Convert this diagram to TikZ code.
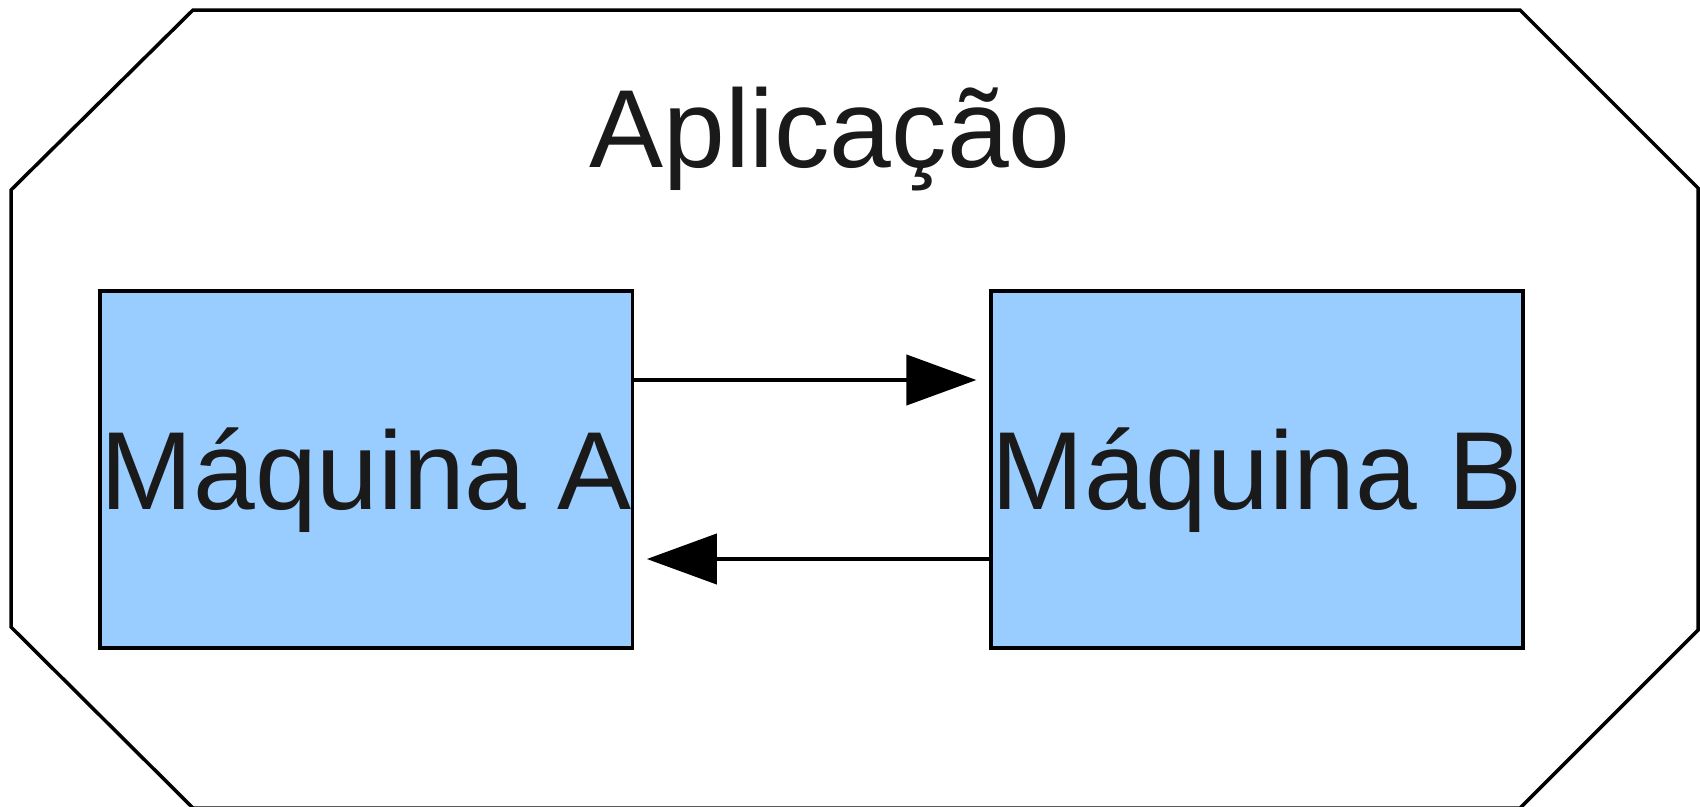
\documentclass[tikz,border=0pt]{standalone}
\usepackage{fontspec}
\setmainfont{Liberation Sans}
\usetikzlibrary{arrows.meta}
\definecolor{boxblue}{HTML}{99CCFF}
\definecolor{ink}{HTML}{1A1A1A}
\begin{document}
\begin{tikzpicture}[x=1pt,y=-1pt,
  bigfont/.style={font=\fontsize{111}{120}\selectfont, text=ink},
  machine/.style={draw=black, fill=boxblue, line width=3.7pt,
    minimum width=532.5pt, minimum height=357pt, inner sep=0pt,
    bigfont, text height=79.5pt, text depth=0pt},
  link/.style={line width=4.2pt, shorten >=12.5pt,
    -{Triangle[length=70pt,width=50pt]}},
  hull/.style={draw=black, line width=3.5pt, line join=miter}]
  \useasboundingbox (0,0) rectangle (1700,806);
  \clip (0,0) rectangle (1700,806);

  % application boundary (octagon, lower corners run off the frame)
  \draw[hull] (193,10) -- (1520,10) -- (1698,188) -- (1698,630)
    -- (1520,808) -- (193,808) -- (11,627) -- (11,190) -- cycle;

  \node[bigfont, anchor=base] (title) at (830,167) {Aplicação};

  \node[machine] (A) at (366.25,469.5) {Máquina A};
  \node[machine] (B) at (1257,469.5) {Máquina B};

  \draw[link] ([yshift=89.5pt]A.east) -- ([yshift=89.5pt]B.west);
  \draw[link] ([yshift=-89.5pt]B.west) -- ([yshift=-89.5pt]A.east);
\end{tikzpicture}
\end{document}
